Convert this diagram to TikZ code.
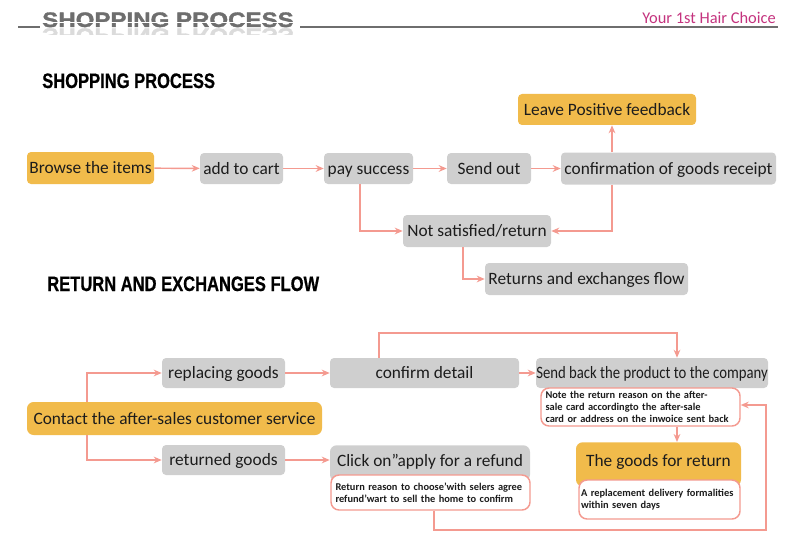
\documentclass[tikz,border=0pt]{standalone}
\usepackage{fontspec}
\setmainfont{Carlito}
\newfontfamily\headfont[FakeStretch=0.79,FakeBold=0.6]{Liberation Sans Bold}
\newfontfamily\bannerfont[FakeStretch=1.15,FakeBold=1.6]{Liberation Sans Bold}
\newfontfamily\smallfont{Carlito Bold}
\usetikzlibrary{arrows.meta}
\definecolor{boxorange}{HTML}{F1BB4B}
\definecolor{boxgray}{HTML}{CFCFCF}
\definecolor{salmon}{HTML}{F49A90}
\definecolor{txt}{HTML}{1C1C1C}
\definecolor{banner}{HTML}{6E6E6E}
\definecolor{brand}{HTML}{C4337E}
\tikzset{
  sz/.style 2 args={minimum width=#1*0.75pt, minimum height=#2*0.75pt},
  boxbase/.style={inner sep=0pt, rounded corners=3pt, text=txt, text height=10pt, text depth=1.6pt, font=\fontsize{13}{15}\selectfont},
  graybox/.style={boxbase, fill=boxgray},
  orangebox/.style={boxbase, fill=boxorange},
  notebox/.style={draw=salmon, line width=1.1pt, fill=white, rounded corners=6pt, inner sep=0pt,
    text=txt, align=left, font=\smallfont\fontsize{7.8}{9}\selectfont},
  arr/.style={draw=salmon, line width=1.1pt, -{Stealth[length=6pt,width=5pt]}},
  heading/.style={anchor=base west, inner sep=0pt, text=black, font=\headfont\fontsize{15.7}{18}\selectfont}
}
\begin{document}
\begin{tikzpicture}[x=0.75pt,y=-0.75pt]
\useasboundingbox (0,0) rectangle (800,542);
% banner
\draw[banner, line width=1.5pt] (18,27) -- (40,27);
\draw[banner, line width=1.5pt] (300,27) -- (778,27);
\node[anchor=base west, inner sep=0pt, text=banner, font=\bannerfont\fontsize{15.7}{18}\selectfont] (ban) at (42,27) {SHOPPING PROCESS};
\begin{scope}
  \clip (40,28) rectangle (300,35);
  \node[anchor=base west, inner sep=0pt, text=banner!25, yscale=-1, font=\bannerfont\fontsize{15.7}{18}\selectfont] (banr) at (42,28.5) {SHOPPING PROCESS};
\end{scope}
\fill[white] (40,22.5) rectangle (300,23.5);
\node[anchor=base east, inner sep=0pt, text=brand, font=\fontsize{12.3}{14}\selectfont] (brand) at (776,24) {Your 1st Hair Choice};
% headings
\node[heading] (h1) at (42,88) {SHOPPING PROCESS};
\node[heading] (h2) at (47,291) {RETURN AND EXCHANGES FLOW};
% shopping process nodes
\node[orangebox, sz={127}{32}] (browse) at (90.5,168) {Browse the items};
\node[graybox, sz={83}{31}] (cart) at (241.5,168.5) {add to cart};
\node[graybox, sz={89}{31}] (pay) at (368.5,168.5) {pay success};
\node[graybox, sz={84}{31}] (send) at (489,168.5) {Send out};
\node[graybox, sz={215}{32}] (conf) at (668.5,168.5) {confirmation of goods receipt};
\node[orangebox, sz={178}{31}] (leave) at (607,109.5) {Leave Positive feedback};
\node[graybox, sz={148}{32}] (notsat) at (477,231) {Not satisfied/return};
\node[graybox, sz={203}{32}] (retflow) at (586.5,279) {Returns and exchanges flow};
\coordinate (xpay) at (360,0);
\coordinate (xconf) at (612,0);
\coordinate (xns) at (463,0);
\draw[arr] (browse) -- (cart);
\draw[arr] (cart) -- (pay);
\draw[arr] (pay) -- (send);
\draw[arr] (send) -- (conf);
\draw[arr] (conf.north -| xconf) -- (leave.south -| xconf);
\draw[arr] (pay.south -| xpay) |- (notsat.west);
\draw[arr] (conf.south -| xconf) |- (notsat.east);
\draw[arr] (notsat.south -| xns) |- (retflow.west);
% return flow nodes
\node[orangebox, sz={295}{33}, rounded corners=5pt] (contact) at (174.5,418.5) {Contact the after-sales customer service};
\node[graybox, sz={123}{30}] (replace) at (223.5,373) {replacing goods};
\node[graybox, sz={123}{30}] (returned) at (223.5,460) {returned goods};
\node[graybox, sz={189}{30}] (confirm) at (424.5,373) {confirm detail};
\node[graybox, sz={232}{30}] (sendback) at (652,373) {\scalebox{0.85}[1]{Send back the product to the company}};
\node[notebox, sz={199}{38}, text width=190*0.75pt] (note) at (640.5,407) {Note the return reason on the after-\\sale card accordingto the after-sale\\card or address on the inwoice sent back};
\node[orangebox, sz={165}{44}, rounded corners=5pt, anchor=north] (goods) at (658.5,442) {};
\node[inner sep=0pt, text=txt, text height=10pt, text depth=1.6pt, font=\fontsize{13}{15}\selectfont] (goodst) at (658.5,461) {The goods for return};
\node[notebox, sz={161}{39}, text width=157*0.75pt] (repl) at (659.5,499.5) {A replacement delivery formalities\\within seven days};
\node[graybox, sz={200}{36}, anchor=north, rounded corners=5pt] (click) at (430,445) {};
\node[inner sep=0pt, text=txt, text height=10pt, text depth=1.6pt, font=\fontsize{13}{15}\selectfont] (clickt) at (430,460.5) {Click on”apply for a refund};
\node[notebox, sz={199}{35}, text width=190*0.75pt] (reason) at (430.5,492.5) {Return reason to choose’with selers agree\\refund’wart to sell the home to confirm};
\coordinate (xc) at (87,0);
\coordinate (xcd) at (379,0);
\coordinate (topy) at (0,333);
\coordinate (xsb) at (677,0);
\coordinate (xr) at (434,0);
\coordinate (loop1) at (434,530);
\coordinate (loop2) at (766,530);
\coordinate (loop3) at (766,405);
\draw[arr] (contact.north -| xc) |- (replace.west);
\draw[arr] (contact.south -| xc) |- (returned.west);
\draw[arr] (replace) -- (confirm);
\draw[arr] (returned) -- (click.west |- returned);
\draw[arr] (confirm) -- (sendback);
\draw[arr] (confirm.north -| xcd) -- (xcd |- topy) -| (sendback.north -| xsb);
\draw[arr] (note.south -| xsb) -- (goods.north -| xsb);
\draw[arr] (reason.south -| xr) -- (loop1) -- (loop2) -- (loop3) -- (note.east |- loop3);
\end{tikzpicture}
\end{document}
